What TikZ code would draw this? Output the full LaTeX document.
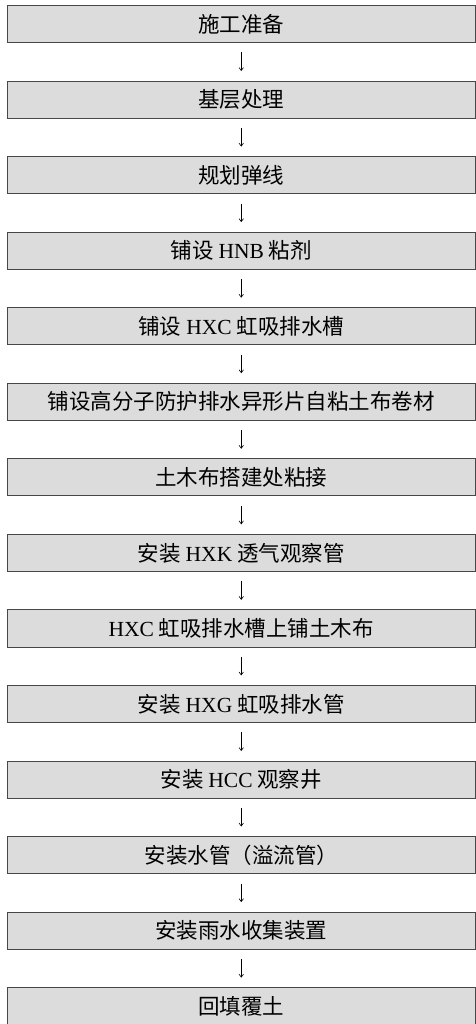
\documentclass[tikz,border=0pt]{standalone}
\usepackage{fontspec}
\setmainfont{Noto Sans CJK SC}
\newfontfamily\latfont{Liberation Serif}
\newcommand{\lat}[1]{{\latfont #1}}
\usetikzlibrary{arrows.meta,positioning}
\definecolor{boxgray}{HTML}{DCDCDD}
\tikzset{
  stepbox/.style={draw=black!72, line width=0.9pt, fill=boxgray,
    minimum width=467.6pt, minimum height=37.1pt, inner sep=0pt,
    font=\fontsize{21.5pt}{23pt}\selectfont},
  flowarrow/.style={-{Straight Barb[length=3pt,width=4.5pt]}, line width=0.6pt,
    shorten <=9.5pt, shorten >=9.5pt}
}

\begin{document}
\begin{tikzpicture}[node distance=37.55pt]
  \useasboundingbox (0,0) rectangle (475pt,-1024pt);
  % process steps, top to bottom
  \node[stepbox] (prep) at (241.25pt,-24pt) {施工准备};
  \node[stepbox, below=of prep] (base) {基层处理};
  \node[stepbox, below=of base] (plan) {规划弹线};
  \node[stepbox, below=of plan] (hnb) {铺设 \lat{HNB} 粘剂};
  \node[stepbox, below=of hnb] (hxc) {铺设 \lat{HXC} 虹吸排水槽};
  \node[stepbox, below=of hxc] (sheet) {铺设高分子防护排水异形片自粘土布卷材};
  \node[stepbox, below=of sheet] (lap) {土木布搭建处粘接};
  \node[stepbox, below=of lap] (hxk) {安装 \lat{HXK} 透气观察管};
  \node[stepbox, below=of hxk] (cloth) {\lat{HXC} 虹吸排水槽上铺土木布};
  \node[stepbox, below=of cloth] (hxg) {安装 \lat{HXG} 虹吸排水管};
  \node[stepbox, below=of hxg] (hcc) {安装 \lat{HCC} 观察井};
  \node[stepbox, below=of hcc] (pipe) {安装水管（溢流管）};
  \node[stepbox, below=of pipe] (rain) {安装雨水收集装置};
  \node[stepbox, below=of rain] (fill) {回填覆土};
  % arrows between steps
  \draw[flowarrow] (prep) -- (base);
  \draw[flowarrow] (base) -- (plan);
  \draw[flowarrow] (plan) -- (hnb);
  \draw[flowarrow] (hnb) -- (hxc);
  \draw[flowarrow] (hxc) -- (sheet);
  \draw[flowarrow] (sheet) -- (lap);
  \draw[flowarrow] (lap) -- (hxk);
  \draw[flowarrow] (hxk) -- (cloth);
  \draw[flowarrow] (cloth) -- (hxg);
  \draw[flowarrow] (hxg) -- (hcc);
  \draw[flowarrow] (hcc) -- (pipe);
  \draw[flowarrow] (pipe) -- (rain);
  \draw[flowarrow] (rain) -- (fill);
\end{tikzpicture}
\end{document}
